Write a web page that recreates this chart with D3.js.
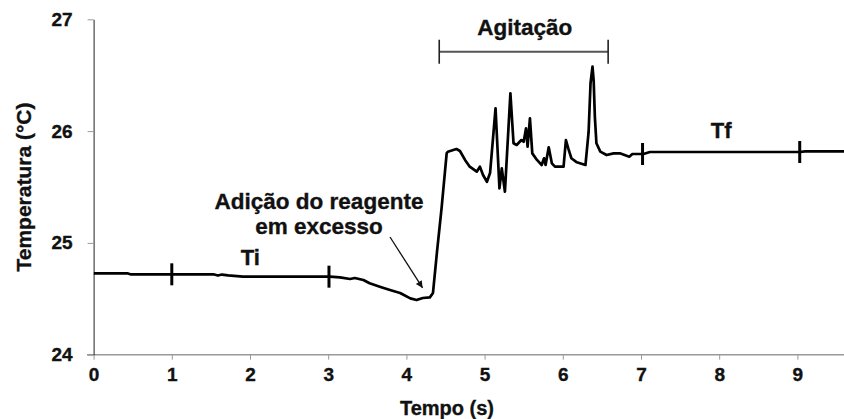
<!DOCTYPE html>
<html>
<head>
<meta charset="utf-8">
<script src="https://cdn.jsdelivr.net/npm/d3@7"></script>
<style>
  html, body { margin: 0; padding: 0; background: #fff; }
  svg { display: block; font-family: "Liberation Sans", Arial, sans-serif; font-weight: bold; }
  .lbl { fill: #111; stroke: #111; stroke-width: 0.35; }
</style>
</head>
<body>
<svg id="chart" width="844" height="419"></svg>
<script>
// Temperature record (time in s, temperature in °C)
const tempo = [
  0, 0.43, 0.47, 1.53, 1.59, 1.64, 1.72, 1.91, 3.02, 3.15, 3.28, 3.34, 3.45, 3.53,
  3.66, 3.79, 3.92, 4.05, 4.13, 4.21, 4.30, 4.34, 4.39, 4.45, 4.515, 4.53, 4.64,
  4.685, 4.75, 4.81, 4.90, 4.94, 4.98, 5.03, 5.07, 5.14, 5.19, 5.22, 5.26, 5.33,
  5.37, 5.41, 5.47, 5.50, 5.53, 5.55, 5.58, 5.61, 5.67, 5.73, 5.76, 5.78, 5.82,
  5.86, 5.90, 6.01, 6.04, 6.07, 6.11, 6.18, 6.29, 6.33, 6.355, 6.38, 6.395, 6.41,
  6.43, 6.48, 6.56, 6.65, 6.73, 6.79, 6.85, 6.89, 7.03, 7.115, 9.03, 9.10, 9.60
];
const temperatura = [
  24.728, 24.728, 24.719, 24.719, 24.708, 24.717, 24.710, 24.698, 24.698, 24.692,
  24.677, 24.686, 24.668, 24.639, 24.608, 24.579, 24.552, 24.504, 24.489, 24.507,
  24.513, 24.552, 24.910, 25.312, 25.801, 25.816, 25.840, 25.822, 25.742, 25.682,
  25.637, 25.682, 25.607, 25.547, 25.625, 26.204, 25.488, 25.667, 25.458, 26.338,
  25.891, 25.876, 25.920, 25.905, 26.025, 25.860, 26.114, 25.801, 25.742, 25.697,
  25.757, 25.697, 25.855, 25.712, 25.682, 25.682, 25.920, 25.846, 25.757, 25.721,
  25.697, 25.990, 26.430, 26.576, 26.450, 26.130, 25.891, 25.816, 25.786, 25.801,
  25.801, 25.786, 25.771, 25.795, 25.795, 25.813, 25.813, 25.818, 25.818
];

// Axis ticks
const xTicks = [0, 1, 2, 3, 4, 5, 6, 7, 8, 9];
const yTicks = [24, 25, 26, 27];

// Interval markers on the curve (Ti and Tf windows)
const marcasTi = [1.0, 3.01];
const marcasTf = [7.02, 9.03];
const rotulos = ["Ti", "Tf"];

// Stirring interval (s) and the level of its bracket (°C)
const agitacao = [4.42, 6.58];
const nivelAgitacao = 26.71;

const svg = d3.select("#chart");
const x = d3.scaleLinear().domain([0, 9.6]).range([93.6, 844.3]);
const y = d3.scaleLinear().domain([24, 27]).range([354.7, 19.3]);

const pontos = tempo.map((t, i) => [t, temperatura[i]]);
const interp = t => {
  for (let i = 1; i < tempo.length; i++) {
    if (t <= tempo[i]) {
      const k = (t - tempo[i - 1]) / (tempo[i] - tempo[i - 1]);
      return temperatura[i - 1] + k * (temperatura[i] - temperatura[i - 1]);
    }
  }
  return temperatura[temperatura.length - 1];
};

// X axis (grey)
const gx = svg.append("g").attr("transform", `translate(0,${y(24)})`)
  .call(d3.axisBottom(x).tickValues(xTicks).tickFormat(d3.format("d")).tickSize(5).tickSizeOuter(0));
gx.select(".domain").attr("stroke", "#999").attr("stroke-width", 1.5)
  .attr("d", `M87,0H844`);
gx.selectAll(".tick line").attr("stroke", "#999");
gx.selectAll(".tick text").attr("class", "lbl").attr("font-size", 19).attr("font-weight", "bold")
  .attr("font-family", "Liberation Sans, Arial, sans-serif").attr("dy", "0.95em");

// Y axis
const gy = svg.append("g").attr("transform", `translate(${x(0)},0)`)
  .call(d3.axisLeft(y).tickValues(yTicks).tickFormat(d3.format("d")).tickSize(6).tickSizeOuter(0));
gy.select(".domain").attr("stroke", "#222").attr("stroke-width", 1);
gy.selectAll(".tick line").attr("stroke", "#999");
gy.selectAll(".tick text").attr("class", "lbl").attr("font-size", 19).attr("font-weight", "bold")
  .attr("font-family", "Liberation Sans, Arial, sans-serif").attr("x", -21);

// Axis titles
svg.append("text").attr("class", "lbl").attr("x", 447).attr("y", 415).attr("text-anchor", "middle")
  .attr("font-size", 20).text("Tempo (s)");
svg.append("text").attr("class", "lbl").attr("transform", "translate(31,187) rotate(-90)")
  .attr("text-anchor", "middle").attr("font-size", 21).text("Temperatura (°C)");

// Temperature curve
svg.append("defs").append("clipPath").attr("id", "area")
  .append("rect").attr("x", x(0)).attr("y", 0).attr("width", 844 - x(0)).attr("height", 419);
svg.append("path").datum(pontos)
  .attr("clip-path", "url(#area)")
  .attr("fill", "none").attr("stroke", "#000").attr("stroke-width", 2.7)
  .attr("stroke-linejoin", "round")
  .attr("d", d3.line().x(d => x(d[0])).y(d => y(d[1])));

// Interval markers
[marcasTi, marcasTf].forEach((marcas, j) => {
  marcas.forEach(t => {
    const cy = y(interp(t));
    svg.append("line").attr("x1", x(t)).attr("x2", x(t))
      .attr("y1", cy - 11).attr("y2", cy + 11)
      .attr("stroke", "#000").attr("stroke-width", 3);
  });
  const mid = (marcas[0] + marcas[1]) / 2;
  svg.append("text").attr("class", "lbl").attr("x", x(mid)).attr("y", y(interp(mid)) - (j === 0 ? 12 : 14))
    .attr("text-anchor", "middle").attr("font-size", 22).text(rotulos[j]);
});

// Stirring bracket
const yb = y(nivelAgitacao);
svg.append("line").attr("x1", x(agitacao[0])).attr("x2", x(agitacao[1]))
  .attr("y1", yb).attr("y2", yb).attr("stroke", "#555").attr("stroke-width", 2);
agitacao.forEach(t => {
  svg.append("line").attr("x1", x(t)).attr("x2", x(t))
    .attr("y1", yb - 12).attr("y2", yb + 12).attr("stroke", "#222").attr("stroke-width", 1.6);
});
svg.append("text").attr("class", "lbl").attr("x", (x(agitacao[0]) + x(agitacao[1])) / 2 + 1).attr("y", yb - 17)
  .attr("text-anchor", "middle").attr("font-size", 22.5).text("Agitação");

// Reagent addition note with arrow
svg.append("defs").append("marker").attr("id", "seta")
  .attr("viewBox", "0 0 10 10").attr("refX", 10).attr("refY", 5)
  .attr("markerWidth", 10).attr("markerHeight", 7).attr("markerUnits", "userSpaceOnUse")
  .attr("orient", "auto")
  .append("path").attr("d", "M0,0L10,5L0,10Z").attr("fill", "#111");
const tAdicao = 4.22;
svg.append("line").attr("x1", 390).attr("y1", 237)
  .attr("x2", x(tAdicao) - 1).attr("y2", y(interp(tAdicao)) - 10)
  .attr("stroke", "#111").attr("stroke-width", 1.3).attr("marker-end", "url(#seta)");
svg.append("text").attr("class", "lbl").attr("text-anchor", "middle").attr("font-size", 22.5)
  .attr("x", 319).attr("y", 209).text("Adição do reagente");
svg.append("text").attr("class", "lbl").attr("text-anchor", "middle").attr("font-size", 22.5)
  .attr("x", 319).attr("y", 234).text("em excesso");
</script>
</body>
</html>
